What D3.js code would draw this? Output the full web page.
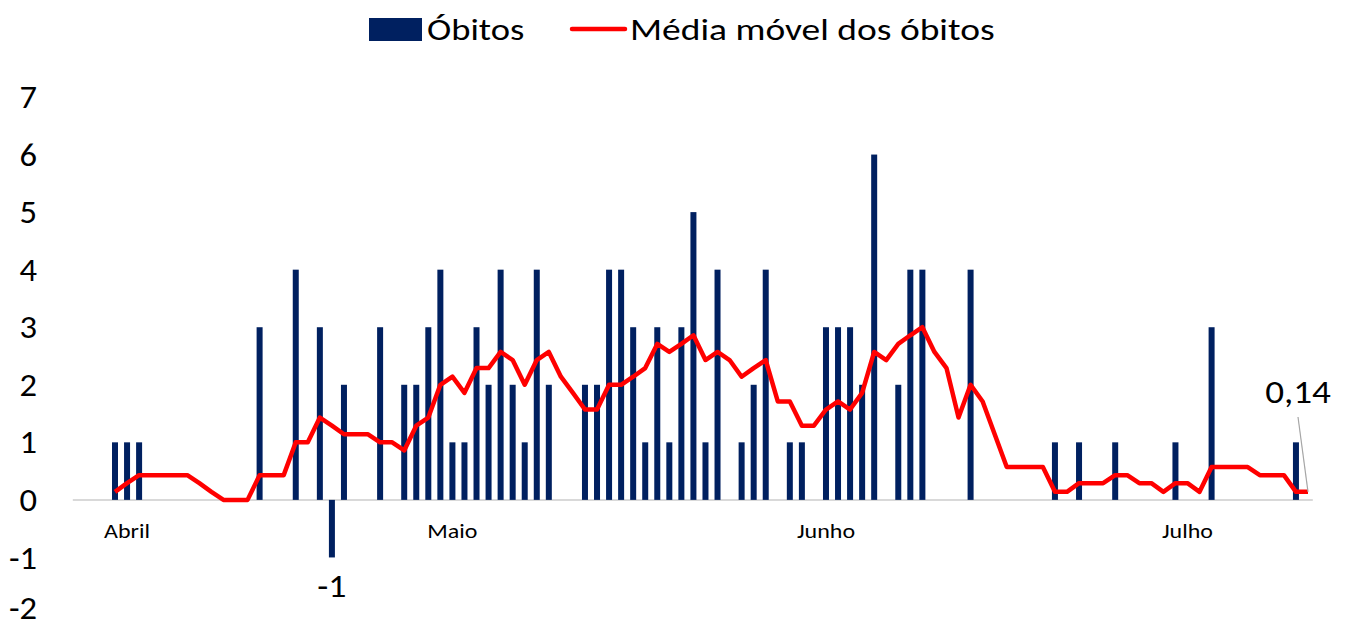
<!DOCTYPE html>
<html>
<head>
<meta charset="utf-8">
<script src="https://cdn.jsdelivr.net/npm/d3@7"></script>
<style>
	body { margin: 0; background: #fff; }
	text { font-family: Carlito, Lato, "Open Sans", sans-serif; fill: #000; }
</style>
</head>
<body>
<script>
// daily deaths, day 0 = 3 de abril
var obitos = [
	1,1,1,0,0,0,0,0,0,0,
	0,0,3,0,0,4,0,3,-1,2,
	0,0,3,0,2,2,3,4,1,1,
	3,2,4,2,1,4,2,0,0,2,
	2,4,4,3,1,3,1,3,5,1,
	4,0,1,2,4,0,1,1,0,3,
	3,3,2,6,0,2,4,4,0,0,
	0,4,0,0,0,0,0,0,1,0,
	1,0,0,1,0,0,0,0,1,0,
	0,3,0,0,0,0,0,0,1,0
];
// moving average
var media = [
	0.14,0.29,0.43,0.43,0.43,0.43,0.43,0.29,0.14,0,
	0,0,0.43,0.43,0.43,1,1,1.43,1.29,1.14,
	1.14,1.14,1,1,0.86,1.29,1.43,2,2.14,1.86,
	2.29,2.29,2.57,2.43,2,2.43,2.57,2.14,1.86,1.57,
	1.57,2,2,2.14,2.29,2.71,2.57,2.71,2.86,2.43,
	2.57,2.43,2.14,2.29,2.43,1.71,1.71,1.29,1.29,1.57,
	1.71,1.57,1.86,2.57,2.43,2.71,2.86,3,2.57,2.29,
	1.43,2,1.71,1.14,0.57,0.57,0.57,0.57,0.14,0.14,
	0.29,0.29,0.29,0.43,0.43,0.29,0.29,0.14,0.29,0.29,
	0.14,0.57,0.57,0.57,0.57,0.43,0.43,0.43,0.14,0.14
];
var meses = ["Abril", "Maio", "Junho", "Julho"];
var mesesDia = [1, 28, 59, 89];
var yTicks = [-2, -1, 0, 1, 2, 3, 4, 5, 6, 7];

var width = 1348, height = 627;
var svg = d3.select("body").append("svg")
	.attr("width", width)
	.attr("height", height);

var x = d3.scaleLinear().domain([0, obitos.length - 1]).range([115, 1308]);
var y = d3.scaleLinear().domain([-2, 7]).range([615, 97]);

// the original text is a bit wide, stretch it horizontally around its x
function stretch(sel, sx) {
	sel.attr("transform", function() {
		var tx = +d3.select(this).attr("x") || 0;
		return "translate(" + tx + ",0) scale(" + sx + ",1) translate(" + (-tx) + ",0)";
	});
}

// y axis labels
var yAxis = d3.axisLeft(y).tickValues(yTicks).tickSize(0).tickPadding(0)
	.tickFormat(function(d) { return d; });
var gy = svg.append("g")
	.attr("transform", "translate(37,0)")
	.call(yAxis);
gy.select(".domain").remove();
gy.selectAll("text")
	.style("font-size", "32px")
	.attr("dy", function(d) { return d == -2 ? "0.12em" : "0.33em"; })
	.call(stretch, 1.08);

// zero line
svg.append("line")
	.attr("x1", x(-3.5))
	.attr("x2", x(99.4))
	.attr("y1", y(0))
	.attr("y2", y(0))
	.attr("stroke", "#d9d9d9")
	.attr("stroke-width", 2);

// bars
svg.selectAll(".bar")
	.data(obitos.map(function(v, i) { return {d: i, v: v}; }).filter(function(o) { return o.v != 0; }))
	.enter().append("rect")
	.attr("class", "bar")
	.attr("fill", "#002060")
	.attr("x", function(o) { return x(o.d) - 3; })
	.attr("width", 6)
	.attr("y", function(o) { return Math.min(y(o.v), y(0)); })
	.attr("height", function(o) { return Math.abs(y(o.v) - y(0)); });

// moving average line
var line = d3.line()
	.x(function(v, i) { return x(i); })
	.y(function(v) { return y(v); });
svg.append("path")
	.datum(media)
	.attr("fill", "none")
	.attr("stroke", "#ff0000")
	.attr("stroke-width", 4.5)
	.attr("stroke-linejoin", "round")
	.attr("d", line);

// month labels
svg.selectAll(".mes")
	.data(meses)
	.enter().append("text")
	.attr("class", "mes")
	.attr("x", function(d, i) { return x(mesesDia[i]); })
	.attr("y", 538)
	.attr("text-anchor", "middle")
	.style("font-size", "20px")
	.text(function(d) { return d; })
	.call(stretch, 1.2);

// data labels
var negDay = obitos.indexOf(-1);
svg.append("text")
	.attr("x", x(negDay))
	.attr("y", 597)
	.attr("text-anchor", "middle")
	.style("font-size", "32px")
	.text("-1")
	.call(stretch, 1.12);

var last = media.length - 1;
svg.append("line")
	.attr("x1", x(last) - 10)
	.attr("y1", 417)
	.attr("x2", x(last))
	.attr("y2", y(media[last]))
	.attr("stroke", "#a6a6a6")
	.attr("stroke-width", 1.2);
svg.append("text")
	.attr("x", x(last) - 10)
	.attr("y", 403)
	.attr("text-anchor", "middle")
	.style("font-size", "32px")
	.text(String(media[last]).replace(".", ","))
	.call(stretch, 1.16);

// legend
var legend = svg.append("g");
legend.append("rect")
	.attr("x", 369)
	.attr("y", 18)
	.attr("width", 53)
	.attr("height", 23)
	.attr("fill", "#002060");
legend.append("text")
	.attr("x", 427)
	.attr("y", 40)
	.style("font-size", "31px")
	.text("Óbitos")
	.call(stretch, 1.18);
legend.append("line")
	.attr("x1", 572)
	.attr("x2", 625)
	.attr("y1", 29)
	.attr("y2", 29)
	.attr("stroke", "#ff0000")
	.attr("stroke-width", 4.5)
	.attr("stroke-linecap", "round");
legend.append("text")
	.attr("x", 630)
	.attr("y", 40)
	.style("font-size", "31px")
	.text("Média móvel dos óbitos")
	.call(stretch, 1.21);
</script>
</body>
</html>
